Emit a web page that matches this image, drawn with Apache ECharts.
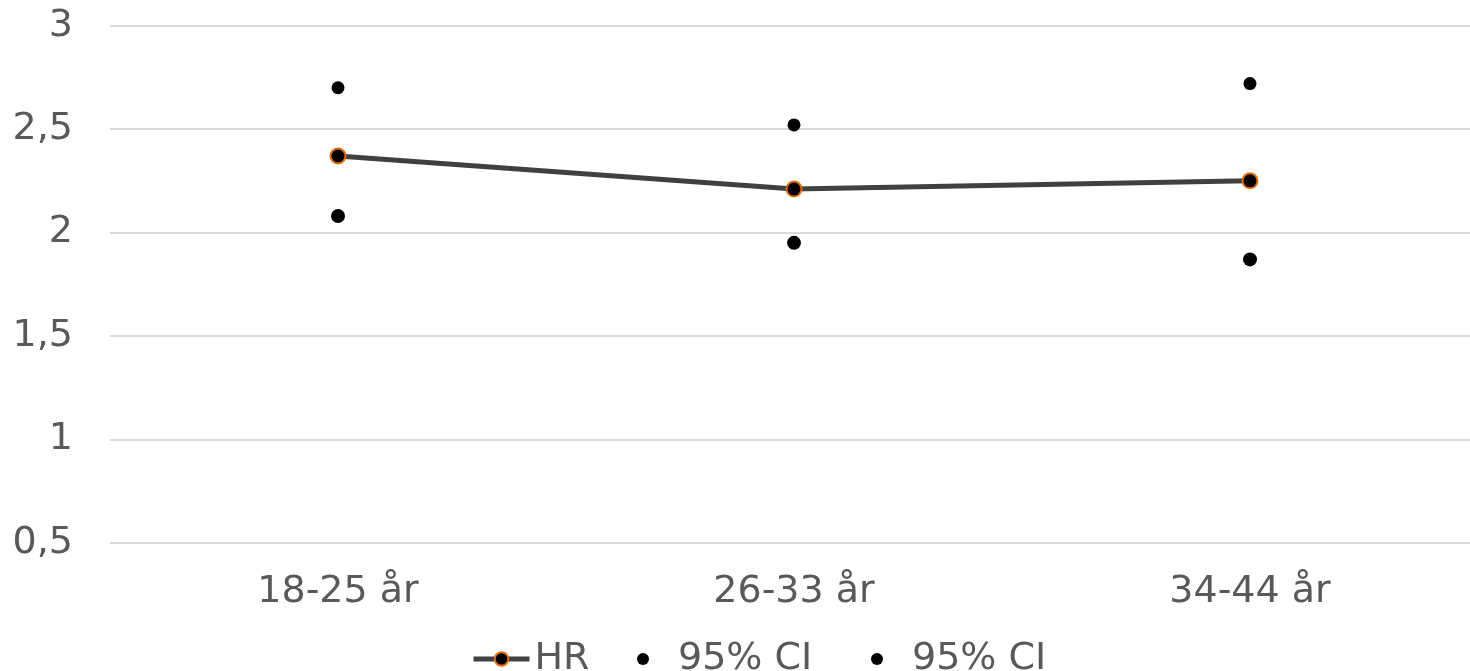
<!DOCTYPE html>
<html><head><meta charset="utf-8">
<script src="https://cdn.jsdelivr.net/npm/echarts@6/dist/echarts.min.js"></script>
<style>html,body{margin:0;padding:0;background:#fff}#c{width:1470px;height:671px}</style>
</head><body><div id="c"></div>
<script>
const categories = ['18-25 år', '26-33 år', '34-44 år'];
const hr = [2.37, 2.21, 2.25];
const ciUpper = [2.70, 2.52, 2.72];
const ciLower = [2.08, 1.95, 1.87];
const yTicks = { min: 0.5, max: 3, interval: 0.5 };
const legendNames = ['HR', '95% CI', '95% CI'];

const FONT = 'DejaVu Sans, Verdana, sans-serif';
const TXT = '#595959';
const legendText = { color: TXT, fontFamily: FONT, fontSize: 38 };
const chart = echarts.init(document.getElementById('c'));
chart.setOption({
  animation: false,
  grid: { left: 110, width: 1368, top: 25.7, bottom: 128.3, outerBoundsMode: 'none', containLabel: false },
  xAxis: {
    type: 'category', data: categories, boundaryGap: true,
    axisLine: { show: false }, axisTick: { show: false },
    axisLabel: { color: TXT, fontFamily: FONT, fontSize: 38, margin: 30 }
  },
  yAxis: {
    type: 'value', min: yTicks.min, max: yTicks.max, interval: yTicks.interval,
    axisLine: { show: false }, axisTick: { show: false },
    axisLabel: { color: TXT, fontFamily: FONT, fontSize: 38, margin: 37,
      formatter: v => String(v).replace('.', ',') },
    splitLine: { lineStyle: { color: '#d9d9d9', width: 2 } }
  },
  legend: [
    { data: ['s0'], left: 466, top: 635, itemWidth: 56, itemHeight: 17, itemGap: 0,
      formatter: () => legendNames[0],
      lineStyle: { width: 5, color: '#404040' },
      itemStyle: { color: '#000', borderColor: '#E46C0A', borderWidth: 2 },
      textStyle: legendText },
    { data: ['s1'], left: 632, top: 635, itemWidth: 12, itemHeight: 12,
      formatter: () => legendNames[1],
      textStyle: Object.assign({ padding: [0, 0, 0, 24] }, legendText) },
    { data: ['s2'], left: 866, top: 635, itemWidth: 12, itemHeight: 12,
      formatter: () => legendNames[2],
      textStyle: Object.assign({ padding: [0, 0, 0, 24] }, legendText) }
  ],
  series: [
    { name: 's0', type: 'line', data: hr, symbol: 'circle', symbolSize: 15,
      lineStyle: { color: '#404040', width: 5 },
      itemStyle: { color: '#000', borderColor: '#E46C0A', borderWidth: 2 }, z: 3 },
    { name: 's1', type: 'scatter', data: ciUpper, symbol: 'circle', symbolSize: 13,
      itemStyle: { color: '#000', opacity: 1 } },
    { name: 's2', type: 'scatter', data: ciLower, symbol: 'circle', symbolSize: 14,
      itemStyle: { color: '#000', opacity: 1 } }
  ]
});
</script></body></html>
